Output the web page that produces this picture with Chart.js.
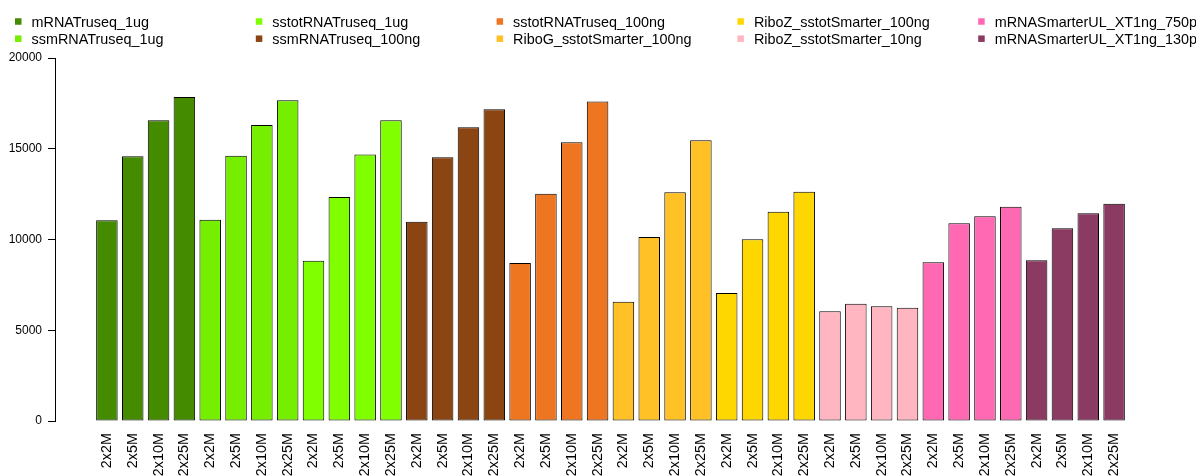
<!DOCTYPE html>
<html>
<head>
<meta charset="utf-8">
<script src="https://cdn.jsdelivr.net/npm/chart.js@4/dist/chart.umd.min.js"></script>
<style>
  body { margin: 0; background: #fff; }
  #wrap { width: 1196px; height: 476px; position: relative; }
</style>
</head>
<body>
<div id="wrap"><canvas id="readsChart"></canvas></div>
<script>
// library preps, one colour each
const libraries = [
    'mRNATruseq_1ug', 'ssmRNATruseq_1ug', 'sstotRNATruseq_1ug', 'ssmRNATruseq_100ng',
    'sstotRNATruseq_100ng', 'RiboG_sstotSmarter_100ng', 'RiboZ_sstotSmarter_100ng',
    'RiboZ_sstotSmarter_10ng', 'mRNASmarterUL_XT1ng_750pg', 'mRNASmarterUL_XT1ng_130pg'
];
const libColors = [
    '#458B00', '#76EE00', '#7FFF00', '#8B4513', '#EE7621',
    '#FFC125', '#FFD700', '#FFB6C1', '#FF69B4', '#8B3A62'
];
// sequencing depths (bars inside each library)
const depths = ['2x2M', '2x5M', '2x10M', '2x25M'];
// values per library, same order as depths
const readCounts = [
    [11060, 14590, 16570, 17850],
    [11090, 14620, 16310, 17670],
    [8830, 12340, 14690, 16570],
    [10980, 14530, 16180, 17170],
    [8700, 12520, 15360, 17610],
    [6570, 10140, 12600, 15470],
    [7050, 10010, 11530, 12630],
    [6040, 6460, 6320, 6240],
    [8740, 10890, 11280, 11810],
    [8850, 10620, 11440, 11970]
];
const yTicks = [0, 5000, 10000, 15000, 20000];

// barplot style layout: bar width 1, space 0.2 before each bar
const SPACE = 0.2;
const nBars = libraries.length * depths.length;
const barPos = k => SPACE + 0.5 + k * (1 + SPACE);
const xLo = SPACE, xHi = nBars * (1 + SPACE);
const xPad = (xHi - xLo) * 0.04;

const datasets = libraries.map((lib, g) => ({
    label: lib,
    data: readCounts[g].map((v, j) => ({ x: barPos(g * depths.length + j), y: v })),
    backgroundColor: libColors[g],
    borderColor: '#000',
    borderWidth: 1,
    borderSkipped: false,
    grouped: false,
    categoryPercentage: 1,
    barPercentage: 1 / (1 + SPACE)
}));

const FONT = '"Liberation Sans", Arial, Helvetica, sans-serif';
Chart.defaults.font.family = FONT;
Chart.defaults.font.size = 12;
Chart.defaults.color = '#000';

// two-row legend, filled column by column
const colLegend = {
    id: 'colLegend',
    afterDraw(chart) {
        const ctx = chart.ctx;
        ctx.save();
        ctx.font = '14.4px ' + FONT;
        ctx.textBaseline = 'alphabetic';
        ctx.textAlign = 'left';
        libraries.forEach((lib, i) => {
            const col = Math.floor(i / 2), row = i % 2;
            const x = 15 + col * 240.8;
            const cy = 21.5 + row * 17.2;
            ctx.fillStyle = libColors[i];
            ctx.fillRect(x, cy - 3.25, 6.5, 6.5);
            ctx.fillStyle = '#000';
            ctx.fillText(lib, x + 16.5, cy + 5);
        });
        ctx.restore();
    }
};

new Chart(document.getElementById('readsChart'), {
    type: 'bar',
    data: { datasets: datasets },
    plugins: [colLegend],
    options: {
        responsive: true,
        maintainAspectRatio: false,
        animation: false,
        layout: { padding: { top: 58, right: 30, left: 0, bottom: 0 } },
        plugins: { legend: { display: false }, tooltip: { enabled: false } },
        scales: {
            x: {
                type: 'linear',
                offset: false,
                min: xLo - xPad,
                max: xHi + xPad,
                grid: { display: false, offset: false },
                border: { display: false },
                afterBuildTicks(scale) {
                    const t = [];
                    for (let k = 0; k < nBars; k++) t.push({ value: barPos(k) });
                    scale.ticks = t;
                },
                afterFit(scale) {
                    scale.height = 55;
                    scale.paddingLeft = 0;
                    scale.paddingRight = 0;
                },
                ticks: {
                    autoSkip: false,
                    minRotation: 90,
                    maxRotation: 90,
                    padding: 4,
                    font: { size: 14.4 },
                    callback: (v, i) => depths[i % depths.length]
                }
            },
            y: {
                min: 0,
                max: 20000,
                afterBuildTicks(scale) {
                    scale.ticks = yTicks.map(v => ({ value: v }));
                },
                afterFit(scale) {
                    scale.width = 55;
                    scale.paddingTop = 0;
                    scale.paddingBottom = 0;
                },
                grid: { drawOnChartArea: false, drawTicks: true, tickLength: 7, color: '#000' },
                border: { display: true, color: '#000', width: 1 },
                ticks: { padding: 6, callback: v => String(v) }
            }
        }
    }
});
</script>
</body>
</html>
